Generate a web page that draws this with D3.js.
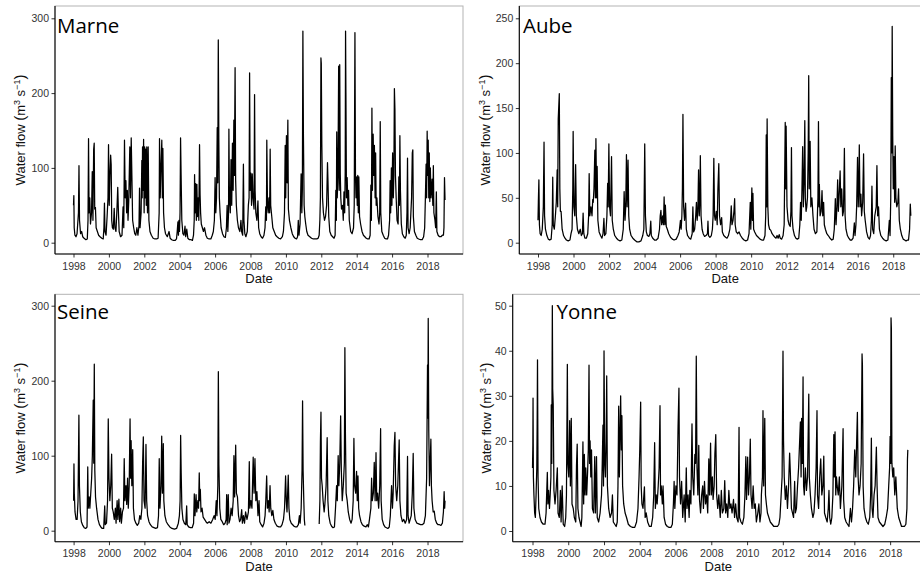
<!DOCTYPE html>
<html>
<head>
<meta charset="utf-8">
<script src="https://cdn.jsdelivr.net/npm/d3@7"></script>
<style>
  html, body { margin: 0; padding: 0; background: #fff; }
  svg { display: block; }
</style>
</head>
<body>
<svg id="chart" width="920" height="573"></svg>
<script>
// ---------------- DATA (decimal year, water flow m3/s) ----------------
const stationNames = ["Marne", "Aube", "Seine", "Yonne"];
const yearTicks = [1998, 2000, 2002, 2004, 2006, 2008, 2010, 2012, 2014, 2016, 2018];
const marneYTicks = [0, 100, 200, 300];
const aubeYTicks = [0, 50, 100, 150, 200, 250];
const seineYTicks = [0, 100, 200, 300];
const yonneYTicks = [0, 10, 20, 30, 40, 50];

const marneFlow = [
[1998.00,50],[1998.02,63],[1998.04,20],[1998.08,10],[1998.14,8],[1998.2,12],[1998.28,40],[1998.31,103],[1998.34,30],[1998.40,12],[1998.46,15],[1998.52,8],[1998.6,6],[1998.7,4],[1998.78,5],[1998.82,30],[1998.85,139],[1998.88,40],[1998.92,60],[1998.96,25],
[1999.02,40],[1999.06,95],[1999.1,30],[1999.14,125],[1999.17,133],[1999.2,45],[1999.24,47],[1999.28,20],[1999.35,15],[1999.42,10],[1999.5,8],[1999.6,6],[1999.68,5],[1999.72,20],[1999.75,53],[1999.78,15],[1999.84,10],[1999.9,35],[1999.95,60],[1999.98,131],
[2000.02,50],[2000.06,90],[2000.1,117],[2000.13,104],[2000.16,30],[2000.2,20],[2000.25,18],[2000.3,46],[2000.34,20],[2000.4,15],[2000.46,48],[2000.5,74],[2000.54,40],[2000.58,15],[2000.66,8],[2000.74,10],[2000.8,48],[2000.84,20],[2000.88,137],[2000.92,60],[2000.96,83],
[2001.0,40],[2001.04,70],[2001.08,30],[2001.12,55],[2001.18,128],[2001.22,60],[2001.26,140],[2001.3,87],[2001.34,30],[2001.4,20],[2001.46,12],[2001.52,10],[2001.58,20],[2001.64,10],[2001.7,23],[2001.73,73],[2001.76,20],[2001.82,40],[2001.86,110],[2001.88,60],[2001.9,128],[2001.93,70],[2001.96,138],[2001.99,40],
[2002.02,128],[2002.05,60],[2002.08,125],[2002.11,50],[2002.14,128],[2002.18,40],[2002.22,128],[2002.26,30],[2002.32,15],[2002.4,10],[2002.5,6],[2002.6,5],[2002.7,5],[2002.78,6],[2002.84,40],[2002.86,139],[2002.9,60],[2002.94,100],[2002.99,137],
[2003.02,60],[2003.05,126],[2003.09,40],[2003.14,20],[2003.2,12],[2003.3,8],[2003.4,15],[2003.46,6],[2003.55,4],[2003.65,3],[2003.75,3],[2003.82,5],[2003.86,15],[2003.9,28],[2003.93,10],[2003.96,30],[2003.99,15],
[2004.02,40],[2004.05,140],[2004.08,91],[2004.12,30],[2004.18,12],[2004.24,10],[2004.3,22],[2004.34,8],[2004.4,18],[2004.46,6],[2004.55,4],[2004.65,4],[2004.72,3],[2004.78,10],[2004.82,30],[2004.84,91],[2004.87,40],[2004.9,79],[2004.94,30],[2004.97,78],
[2005.0,35],[2005.04,60],[2005.08,30],[2005.12,131],[2005.15,65],[2005.18,40],[2005.22,25],[2005.28,20],[2005.34,15],[2005.4,20],[2005.48,10],[2005.56,6],[2005.66,5],[2005.76,5],[2005.84,10],[2005.9,15],[2005.96,30],
[2006.0,87],[2006.04,40],[2006.08,60],[2006.12,154],[2006.15,80],[2006.18,271],[2006.21,140],[2006.24,60],[2006.28,40],[2006.34,20],[2006.42,12],[2006.5,8],[2006.58,7],[2006.64,20],[2006.68,50],[2006.72,15],[2006.76,40],[2006.78,152],[2006.81,60],[2006.86,40],[2006.9,111],[2006.94,50],[2006.98,133],
[2007.02,70],[2007.06,164],[2007.09,90],[2007.13,234],[2007.16,85],[2007.2,50],[2007.26,30],[2007.32,20],[2007.4,15],[2007.46,30],[2007.5,15],[2007.56,10],[2007.6,105],[2007.63,30],[2007.68,12],[2007.74,8],[2007.82,15],[2007.88,50],[2007.92,60],[2007.95,227],[2007.98,70],
[2008.02,93],[2008.06,50],[2008.1,92],[2008.14,60],[2008.2,45],[2008.23,198],[2008.26,70],[2008.3,40],[2008.36,30],[2008.42,56],[2008.46,20],[2008.52,12],[2008.6,8],[2008.68,6],[2008.76,10],[2008.82,20],[2008.86,48],[2008.9,30],[2008.92,137],[2008.96,50],[2009.0,40],
[2009.04,60],[2009.08,40],[2009.11,125],[2009.14,50],[2009.2,35],[2009.26,20],[2009.34,15],[2009.42,10],[2009.5,8],[2009.6,6],[2009.7,5],[2009.8,8],[2009.86,15],[2009.92,40],[2009.96,130],[2009.99,60],
[2010.03,143],[2010.07,80],[2010.11,164],[2010.14,45],[2010.2,30],[2010.28,20],[2010.36,12],[2010.44,8],[2010.52,6],[2010.6,5],[2010.66,8],[2010.7,30],[2010.74,10],[2010.8,25],[2010.86,92],[2010.9,40],[2010.93,70],[2010.96,283],[2010.99,143],
[2011.03,50],[2011.07,35],[2011.12,25],[2011.18,15],[2011.25,10],[2011.35,8],[2011.45,6],[2011.55,5],[2011.65,5],[2011.75,5],[2011.82,6],[2011.88,10],[2011.92,30],[2011.95,60],[2011.98,247],
[2012.0,240],[2012.03,133],[2012.07,60],[2012.12,40],[2012.18,30],[2012.24,35],[2012.3,50],[2012.35,107],[2012.38,80],[2012.42,35],[2012.48,15],[2012.56,10],[2012.64,8],[2012.72,6],[2012.78,10],[2012.82,70],[2012.85,30],[2012.87,148],[2012.9,60],[2012.94,90],[2012.98,236],
[2013.01,70],[2013.04,238],[2013.07,93],[2013.1,60],[2013.14,45],[2013.2,50],[2013.24,30],[2013.28,68],[2013.32,40],[2013.35,95],[2013.37,283],[2013.39,200],[2013.42,60],[2013.46,87],[2013.5,50],[2013.54,70],[2013.58,30],[2013.66,15],[2013.74,12],[2013.82,20],[2013.86,50],[2013.9,281],[2013.93,90],[2013.96,60],
[2014.0,88],[2014.03,50],[2014.06,90],[2014.09,40],[2014.12,88],[2014.16,35],[2014.22,25],[2014.3,15],[2014.38,10],[2014.46,8],[2014.54,6],[2014.62,5],[2014.7,5],[2014.76,10],[2014.8,77],[2014.83,30],[2014.86,180],[2014.89,70],[2014.93,145],[2014.97,90],
[2015.0,130],[2015.04,60],[2015.07,120],[2015.1,50],[2015.14,60],[2015.2,35],[2015.26,25],[2015.3,40],[2015.33,162],[2015.36,40],[2015.42,15],[2015.5,10],[2015.58,6],[2015.66,5],[2015.74,5],[2015.8,10],[2015.86,30],[2015.89,83],[2015.92,40],[2015.96,100],[2015.99,50],
[2016.03,120],[2016.07,60],[2016.1,90],[2016.13,206],[2016.16,178],[2016.19,90],[2016.23,60],[2016.28,30],[2016.34,25],[2016.38,88],[2016.41,50],[2016.44,143],[2016.47,70],[2016.52,25],[2016.58,12],[2016.66,8],[2016.74,6],[2016.8,10],[2016.84,40],[2016.87,113],[2016.9,20],[2016.96,12],
[2017.02,20],[2017.06,40],[2017.1,60],[2017.14,120],[2017.17,124],[2017.2,35],[2017.26,15],[2017.34,10],[2017.42,6],[2017.5,5],[2017.6,4],[2017.7,4],[2017.78,8],[2017.84,20],[2017.88,60],[2017.92,105],[2017.95,60],[2017.98,149],
[2018.01,90],[2018.04,137],[2018.07,60],[2018.1,120],[2018.13,55],[2018.16,100],[2018.2,60],[2018.26,85],[2018.3,50],[2018.33,103],[2018.36,40],[2018.42,30],[2018.46,20],[2018.5,68],[2018.53,15],[2018.6,10],[2018.68,8],[2018.76,8],[2018.84,10],[2018.9,10],[2018.93,20],[2018.96,87],[2018.99,57]
];

const aubeFlow = [
[1998.0,25],[1998.02,45],[1998.05,70],[1998.08,20],[1998.12,10],[1998.18,8],[1998.24,15],[1998.3,40],[1998.34,112],[1998.37,30],[1998.42,15],[1998.5,8],[1998.58,4],[1998.66,3],[1998.74,4],[1998.8,20],[1998.83,73],[1998.86,20],[1998.92,15],[1998.98,30],
[1999.03,45],[1999.08,81],[1999.11,40],[1999.14,138],[1999.2,166],[1999.23,60],[1999.26,35],[1999.3,35],[1999.36,15],[1999.44,8],[1999.52,5],[1999.6,3],[1999.7,2],[1999.8,3],[1999.86,10],[1999.92,15],[1999.96,60],[1999.98,124],
[2000.02,40],[2000.07,30],[2000.12,87],[2000.16,30],[2000.22,15],[2000.3,10],[2000.38,15],[2000.44,8],[2000.5,10],[2000.54,33],[2000.58,10],[2000.64,5],[2000.72,5],[2000.8,10],[2000.85,30],[2000.88,77],[2000.92,30],[2000.98,40],
[2001.04,30],[2001.08,48],[2001.11,45],[2001.15,60],[2001.2,103],[2001.23,50],[2001.26,116],[2001.3,50],[2001.33,85],[2001.37,25],[2001.44,12],[2001.52,8],[2001.6,5],[2001.66,10],[2001.71,27],[2001.75,8],[2001.82,10],[2001.88,30],[2001.92,66],[2001.95,40],[2001.99,110],
[2002.03,40],[2002.08,30],[2002.14,96],[2002.18,25],[2002.24,15],[2002.32,8],[2002.42,5],[2002.52,3],[2002.62,2],[2002.72,3],[2002.8,15],[2002.85,57],[2002.9,25],[2002.94,40],[2002.98,98],
[2003.02,40],[2003.07,92],[2003.11,30],[2003.16,15],[2003.24,8],[2003.34,5],[2003.44,3],[2003.56,1],[2003.68,1],[2003.8,2],[2003.9,8],[2003.96,15],
[2004.01,110],[2004.05,30],[2004.1,12],[2004.16,8],[2004.24,7],[2004.3,10],[2004.35,24],[2004.38,8],[2004.46,5],[2004.56,3],[2004.66,3],[2004.76,5],[2004.84,15],[2004.88,30],[2004.92,36],[2004.96,20],
[2005.02,30],[2005.06,20],[2005.1,51],[2005.14,20],[2005.17,42],[2005.22,18],[2005.28,15],[2005.36,10],[2005.46,6],[2005.56,4],[2005.66,3],[2005.78,4],[2005.88,8],[2005.95,12],
[2006.02,25],[2006.06,15],[2006.1,30],[2006.13,60],[2006.16,143],[2006.2,40],[2006.25,25],[2006.31,44],[2006.35,15],[2006.42,8],[2006.52,5],[2006.6,4],[2006.68,10],[2006.72,40],[2006.76,12],[2006.82,15],[2006.88,30],[2006.92,45],[2006.96,25],
[2007.0,35],[2007.04,81],[2007.08,30],[2007.11,45],[2007.14,97],[2007.18,30],[2007.24,15],[2007.3,10],[2007.38,7],[2007.46,8],[2007.54,10],[2007.57,24],[2007.6,8],[2007.68,6],[2007.76,8],[2007.82,15],[2007.86,30],[2007.9,94],[2007.94,30],[2007.98,25],
[2008.04,35],[2008.09,20],[2008.13,60],[2008.18,88],[2008.22,30],[2008.28,20],[2008.34,28],[2008.38,12],[2008.46,8],[2008.56,6],[2008.64,5],[2008.72,8],[2008.8,15],[2008.84,25],[2008.88,41],[2008.92,20],[2008.98,25],
[2009.03,35],[2009.07,49],[2009.1,20],[2009.16,12],[2009.24,10],[2009.32,12],[2009.4,8],[2009.5,5],[2009.6,3],[2009.7,2],[2009.8,3],[2009.88,10],[2009.95,45],[2009.98,15],
[2010.04,61],[2010.07,25],[2010.1,55],[2010.14,15],[2010.2,12],[2010.3,8],[2010.4,6],[2010.5,4],[2010.6,3],[2010.7,3],[2010.78,8],[2010.82,30],[2010.85,120],[2010.88,40],[2010.9,138],[2010.94,40],[2010.98,20],
[2011.04,15],[2011.1,14],[2011.18,10],[2011.26,8],[2011.34,6],[2011.4,5],[2011.46,8],[2011.52,5],[2011.58,9],[2011.64,5],[2011.72,4],[2011.8,8],[2011.86,20],[2011.92,134],[2011.95,60],[2011.97,130],
[2012.02,40],[2012.08,25],[2012.14,20],[2012.2,18],[2012.24,35],[2012.27,106],[2012.3,30],[2012.36,15],[2012.44,8],[2012.52,5],[2012.6,4],[2012.68,5],[2012.74,20],[2012.78,45],[2012.82,25],[2012.86,60],[2012.9,107],[2012.94,40],[2012.98,70],
[2013.02,136],[2013.05,50],[2013.09,35],[2013.13,40],[2013.17,50],[2013.21,100],[2013.24,186],[2013.27,60],[2013.32,113],[2013.36,40],[2013.42,50],[2013.48,30],[2013.54,15],[2013.62,10],[2013.7,12],[2013.76,50],[2013.79,135],[2013.82,40],[2013.84,65],[2013.88,30],[2013.94,35],[2013.99,58],
[2014.03,30],[2014.08,45],[2014.12,20],[2014.18,15],[2014.26,10],[2014.34,8],[2014.44,5],[2014.54,3],[2014.62,4],[2014.68,15],[2014.74,49],[2014.78,20],[2014.83,40],[2014.87,70],[2014.91,35],[2014.95,50],
[2015.01,80],[2015.05,40],[2015.1,60],[2015.15,30],[2015.2,35],[2015.25,105],[2015.29,30],[2015.34,15],[2015.42,8],[2015.5,5],[2015.58,3],[2015.66,3],[2015.74,5],[2015.81,22],[2015.85,8],[2015.9,20],[2015.94,40],[2015.99,95],
[2016.03,40],[2016.06,60],[2016.09,109],[2016.13,40],[2016.18,54],[2016.22,30],[2016.28,45],[2016.33,99],[2016.37,35],[2016.42,25],[2016.5,12],[2016.58,6],[2016.66,4],[2016.72,8],[2016.77,25],[2016.8,63],[2016.84,15],[2016.9,10],[2016.96,30],
[2017.04,40],[2017.08,86],[2017.12,30],[2017.17,40],[2017.22,15],[2017.3,8],[2017.4,5],[2017.5,3],[2017.6,2],[2017.7,3],[2017.78,25],[2017.82,8],[2017.86,50],[2017.89,184],[2017.92,100],[2017.94,241],[2017.97,120],
[2018.0,60],[2018.04,96],[2018.08,45],[2018.11,108],[2018.15,50],[2018.2,40],[2018.26,45],[2018.3,60],[2018.34,25],[2018.4,15],[2018.48,8],[2018.56,4],[2018.64,3],[2018.72,2],[2018.8,3],[2018.86,3],[2018.92,15],[2018.96,43],[2018.99,30]
];

const seineFlow = [
[1998.0,40],[1998.02,89],[1998.04,50],[1998.08,25],[1998.14,15],[1998.2,15],[1998.25,40],[1998.3,154],[1998.33,60],[1998.38,25],[1998.44,12],[1998.52,7],[1998.6,4],[1998.68,3],[1998.76,5],[1998.8,85],[1998.83,30],[1998.88,45],[1998.92,30],[1998.97,50],
[1999.02,70],[1999.06,100],[1999.11,174],[1999.14,90],[1999.17,222],[1999.2,80],[1999.24,45],[1999.3,30],[1999.38,15],[1999.46,8],[1999.54,5],[1999.62,3],[1999.7,3],[1999.76,33],[1999.79,8],[1999.86,10],[1999.92,40],[1999.96,149],
[2000.0,70],[2000.05,40],[2000.1,60],[2000.15,102],[2000.19,30],[2000.24,25],[2000.3,15],[2000.36,30],[2000.4,10],[2000.46,40],[2000.5,15],[2000.56,42],[2000.6,12],[2000.66,30],[2000.7,10],[2000.76,25],[2000.82,30],[2000.86,96],[2000.9,40],[2000.96,60],
[2001.0,35],[2001.05,70],[2001.09,30],[2001.14,60],[2001.19,149],[2001.22,70],[2001.25,120],[2001.29,60],[2001.34,108],[2001.38,30],[2001.44,15],[2001.52,10],[2001.6,7],[2001.68,10],[2001.74,20],[2001.8,15],[2001.86,30],[2001.9,90],[2001.94,125],[2001.98,40],
[2002.04,30],[2002.09,115],[2002.13,40],[2002.18,20],[2002.26,12],[2002.34,8],[2002.44,5],[2002.54,4],[2002.64,3],[2002.74,4],[2002.8,20],[2002.84,96],[2002.88,30],[2002.94,60],[2002.98,126],
[2003.02,50],[2003.07,116],[2003.1,40],[2003.16,20],[2003.24,12],[2003.34,8],[2003.44,5],[2003.56,3],[2003.7,2],[2003.82,3],[2003.92,10],[2003.98,20],
[2004.02,40],[2004.05,127],[2004.08,78],[2004.12,30],[2004.18,15],[2004.26,10],[2004.34,8],[2004.39,33],[2004.42,8],[2004.5,5],[2004.6,4],[2004.7,4],[2004.78,10],[2004.82,49],[2004.86,20],[2004.92,48],[2004.96,25],
[2005.02,40],[2005.06,30],[2005.1,77],[2005.13,40],[2005.16,55],[2005.2,25],[2005.26,30],[2005.32,18],[2005.4,15],[2005.48,12],[2005.56,10],[2005.66,12],[2005.76,10],[2005.86,15],[2005.94,20],
[2006.0,15],[2006.06,40],[2006.1,20],[2006.15,60],[2006.18,212],[2006.21,88],[2006.26,30],[2006.32,15],[2006.4,12],[2006.48,8],[2006.56,10],[2006.62,15],[2006.65,48],[2006.68,8],[2006.74,48],[2006.78,10],[2006.84,15],[2006.9,30],[2006.96,20],
[2007.02,40],[2007.06,100],[2007.1,45],[2007.16,114],[2007.2,50],[2007.26,45],[2007.32,20],[2007.38,12],[2007.44,15],[2007.5,28],[2007.54,10],[2007.6,20],[2007.66,10],[2007.72,25],[2007.8,15],[2007.88,25],[2007.93,92],[2007.96,30],
[2008.02,40],[2008.08,30],[2008.15,98],[2008.2,50],[2008.25,96],[2008.3,40],[2008.36,52],[2008.42,20],[2008.48,40],[2008.52,12],[2008.6,8],[2008.68,5],[2008.76,10],[2008.82,20],[2008.86,40],[2008.91,73],[2008.95,30],
[2009.0,40],[2009.05,25],[2009.1,60],[2009.14,30],[2009.2,20],[2009.26,27],[2009.32,15],[2009.4,10],[2009.5,6],[2009.6,5],[2009.7,5],[2009.78,8],[2009.86,15],[2009.92,30],[2009.98,73],
[2010.02,40],[2010.06,25],[2010.13,74],[2010.17,30],[2010.22,15],[2010.3,10],[2010.38,8],[2010.46,6],[2010.54,5],[2010.62,5],[2010.7,8],[2010.76,20],[2010.8,10],[2010.86,30],[2010.91,80],[2010.94,173],[2010.97,80],
[2011.01,40],[2011.04,15],[2011.07,7],[2011.08,null],[2011.86,null],[2011.88,9],[2011.92,40],[2011.95,120],[2011.98,158],
[2012.01,70],[2012.05,60],[2012.1,40],[2012.16,25],[2012.2,35],[2012.27,60],[2012.33,124],[2012.37,40],[2012.42,20],[2012.5,10],[2012.58,6],[2012.66,4],[2012.74,5],[2012.8,30],[2012.86,60],[2012.9,40],[2012.95,100],[2012.99,60],
[2013.04,90],[2013.09,153],[2013.13,80],[2013.18,40],[2013.24,60],[2013.3,90],[2013.33,244],[2013.36,130],[2013.4,50],[2013.46,40],[2013.52,25],[2013.6,15],[2013.68,10],[2013.74,15],[2013.8,40],[2013.84,123],[2013.88,60],[2013.94,50],[2013.99,79],
[2014.03,40],[2014.07,73],[2014.11,30],[2014.16,20],[2014.24,12],[2014.32,8],[2014.42,6],[2014.52,5],[2014.6,8],[2014.66,5],[2014.72,15],[2014.8,30],[2014.84,70],[2014.88,40],[2014.94,50],[2014.99,91],
[2015.04,40],[2015.09,104],[2015.13,40],[2015.18,50],[2015.24,30],[2015.3,60],[2015.35,136],[2015.38,40],[2015.44,15],[2015.52,8],[2015.6,5],[2015.68,4],[2015.76,3],[2015.84,5],[2015.9,20],[2015.97,60],
[2016.02,30],[2016.06,50],[2016.12,113],[2016.16,131],[2016.2,60],[2016.26,40],[2016.32,60],[2016.4,121],[2016.44,40],[2016.5,20],[2016.58,12],[2016.66,15],[2016.74,10],[2016.82,15],[2016.87,99],[2016.9,20],[2016.96,10],
[2017.02,15],[2017.08,20],[2017.14,50],[2017.19,103],[2017.23,30],[2017.3,15],[2017.4,10],[2017.5,9],[2017.6,8],[2017.7,8],[2017.8,10],[2017.88,20],[2017.95,70],[2018.0,221],
[2018.02,150],[2018.04,283],[2018.07,135],[2018.11,60],[2018.15,90],[2018.19,122],[2018.22,60],[2018.26,40],[2018.32,25],[2018.38,26],[2018.44,15],[2018.52,10],[2018.6,8],[2018.68,8],[2018.76,7],[2018.84,10],[2018.9,25],[2018.94,52],[2018.97,30],[2018.99,40]
];

const yonneFlow = [
[1998.0,14],[1998.02,19],[1998.03,29.5],[1998.05,12],[1998.08,8],[1998.12,4],[1998.16,3],[1998.2,8],[1998.24,14],[1998.26,23.5],[1998.28,38],[1998.31,12],[1998.35,5],[1998.42,3],[1998.5,2],[1998.6,1.5],[1998.7,1.5],[1998.76,4],[1998.83,13],[1998.86,6],[1998.9,9],[1998.95,5],[1998.99,8],
[1999.03,12],[1999.05,28],[1999.08,15],[1999.11,50],[1999.13,31.5],[1999.16,28],[1999.2,9],[1999.26,6],[1999.32,9],[1999.39,14],[1999.43,4],[1999.5,3],[1999.56,9],[1999.6,2],[1999.66,10],[1999.72,1.5],[1999.8,1],[1999.86,3],[1999.9,8],[1999.95,37],[1999.98,15],
[2000.03,12],[2000.08,24.5],[2000.12,10],[2000.17,25],[2000.21,6],[2000.28,5],[2000.34,3],[2000.42,2],[2000.46,14.5],[2000.5,19.3],[2000.54,5],[2000.6,3],[2000.66,2],[2000.72,1],[2000.76,3],[2000.82,19.8],[2000.86,6],[2000.9,17],[2000.94,8],[2000.98,14],
[2001.03,8],[2001.08,13],[2001.12,18],[2001.16,36.8],[2001.19,15],[2001.22,20],[2001.26,12],[2001.3,18],[2001.35,5],[2001.42,4],[2001.48,16.5],[2001.52,4],[2001.58,16.5],[2001.62,3],[2001.7,2],[2001.78,4],[2001.86,8],[2001.9,15],[2001.94,23.5],[2001.97,10],
[2002.0,40],[2002.04,15],[2002.08,12],[2002.12,20],[2002.15,34.4],[2002.19,10],[2002.26,5],[2002.34,3],[2002.42,4],[2002.47,8],[2002.52,2],[2002.6,1.5],[2002.68,1],[2002.74,2],[2002.78,10],[2002.82,27.7],[2002.86,12],[2002.93,30],[2002.97,18],
[2003.0,25.6],[2003.04,10],[2003.1,6],[2003.18,4],[2003.26,3],[2003.36,1.5],[2003.48,1],[2003.6,0.8],[2003.72,0.8],[2003.82,2],[2003.9,5],[2003.96,12],
[2004.0,18],[2004.05,28.6],[2004.08,10],[2004.12,6],[2004.18,5],[2004.26,9.8],[2004.3,3],[2004.36,4],[2004.44,2],[2004.54,1],[2004.64,1],[2004.72,3],[2004.78,8],[2004.83,19.6],[2004.87,5],[2004.92,8],[2004.97,6],
[2005.03,10],[2005.08,14],[2005.13,27.8],[2005.16,8],[2005.2,10],[2005.26,6],[2005.3,10],[2005.36,3],[2005.44,1.5],[2005.54,1],[2005.64,0.8],[2005.74,0.8],[2005.82,1.5],[2005.88,6],[2005.92,11],[2005.96,5],
[2006.02,10],[2006.08,8],[2006.14,23],[2006.19,31.7],[2006.22,12],[2006.28,6],[2006.34,11],[2006.4,3],[2006.48,8],[2006.54,2],[2006.6,14],[2006.64,5],[2006.7,8],[2006.76,3],[2006.8,9],[2006.86,6],[2006.92,23.8],[2006.96,12],
[2007.02,8],[2007.08,17],[2007.12,15],[2007.16,38.8],[2007.2,14],[2007.25,8],[2007.3,19],[2007.34,7],[2007.4,4],[2007.46,8],[2007.52,10],[2007.56,5],[2007.62,11],[2007.68,6],[2007.74,8],[2007.8,4],[2007.86,16],[2007.9,8],[2007.96,19.5],
[2008.0,8],[2008.06,12],[2008.1,7],[2008.16,10],[2008.2,17],[2008.25,21.4],[2008.3,8],[2008.36,5],[2008.42,8],[2008.5,3],[2008.56,9],[2008.62,4],[2008.7,5],[2008.75,11.2],[2008.8,4],[2008.86,6],[2008.92,3],[2008.98,9],
[2009.04,5],[2009.1,6],[2009.16,4],[2009.24,7],[2009.3,3],[2009.36,6],[2009.42,3],[2009.5,2],[2009.55,23],[2009.58,3],[2009.66,2],[2009.74,1.5],[2009.82,3],[2009.88,8],[2009.93,16.5],[2009.97,7],
[2010.03,16.4],[2010.08,8],[2010.13,12],[2010.18,20.4],[2010.22,8],[2010.28,5],[2010.34,10],[2010.4,5],[2010.46,6],[2010.52,2],[2010.6,4],[2010.66,6],[2010.72,2],[2010.78,4],[2010.8,8],[2010.86,12],[2010.89,26.7],[2010.93,10],[2010.99,25],
[2011.03,8],[2011.08,6],[2011.14,4],[2011.22,3],[2011.3,2],[2011.4,1.5],[2011.5,1],[2011.6,1],[2011.7,1],[2011.78,1.5],[2011.84,3],[2011.92,9],[2011.96,12],
[2012.01,39.9],[2012.04,20],[2012.08,12],[2012.14,7],[2012.2,10],[2012.26,5],[2012.32,10],[2012.38,17.3],[2012.42,13],[2012.48,5],[2012.54,4],[2012.6,3],[2012.66,11],[2012.7,4],[2012.76,5],[2012.82,10],[2012.88,14],[2012.94,20],[2012.98,24.2],
[2013.02,12],[2013.05,25],[2013.09,15],[2013.13,34.2],[2013.16,10],[2013.2,8],[2013.26,14],[2013.32,9],[2013.38,12],[2013.45,30.4],[2013.48,12],[2013.54,8],[2013.6,5],[2013.68,3],[2013.74,4],[2013.8,8],[2013.86,14],[2013.91,26.7],[2013.94,8],
[2014.0,5],[2014.06,12],[2014.12,16],[2014.18,8],[2014.24,10],[2014.29,16.6],[2014.33,4],[2014.4,3],[2014.48,2],[2014.54,5],[2014.58,9],[2014.62,3],[2014.68,1.5],[2014.74,3],[2014.8,8],[2014.85,21.4],[2014.88,12],[2014.92,22],[2014.96,8],
[2015.0,12],[2015.04,10],[2015.1,8],[2015.16,12],[2015.22,5],[2015.3,10],[2015.37,22.7],[2015.4,7],[2015.46,3],[2015.54,2],[2015.62,1.5],[2015.7,1],[2015.78,5],[2015.84,2],[2015.9,5],[2015.96,10],
[2016.02,18],[2016.08,12],[2016.13,20],[2016.17,26.3],[2016.21,12],[2016.26,8],[2016.32,10],[2016.38,15],[2016.43,39.3],[2016.45,37],[2016.49,10],[2016.54,5],[2016.62,3],[2016.7,2],[2016.78,1.5],[2016.86,3],[2016.91,8],[2016.95,20.6],[2016.99,5],
[2017.04,3],[2017.1,8],[2017.16,10],[2017.23,18.6],[2017.27,10],[2017.32,3],[2017.4,2],[2017.5,1.5],[2017.6,1],[2017.7,1.5],[2017.78,3],[2017.86,5],[2017.92,10],[2017.97,14],
[2018.0,21],[2018.03,15],[2018.05,47.3],[2018.07,45],[2018.1,15],[2018.15,12],[2018.2,14],[2018.26,8],[2018.32,12],[2018.4,5],[2018.48,3],[2018.56,2],[2018.64,1],[2018.72,1],[2018.8,1],[2018.88,1.5],[2018.94,5],[2018.97,16],[2018.99,18]
];

// ---------------- LAYOUT ----------------
const panels = [
  { name: stationNames[0], data: marneFlow, yTicks: marneYTicks,
    frame: {l: 55, r: 463, t: 6, b: 254}, xr: [73.5, 445.2], yr: [242.7, 18.3],
    title: [57, 33], yTitleX: 25, xLabY: 269.5, xTitleY: 283 },
  { name: stationNames[1], data: aubeFlow, yTicks: aubeYTicks,
    frame: {l: 519.3, r: 931, t: 6, b: 254}, xr: [538, 911], yr: [242.7, 18.3],
    title: [523, 33], yTitleX: 490, xLabY: 269.5, xTitleY: 283 },
  { name: stationNames[2], data: seineFlow, yTicks: seineYTicks,
    frame: {l: 55, r: 463, t: 294.3, b: 541.7}, xr: [73.6, 445.2], yr: [530.7, 305.7],
    title: [57, 318.5], yTitleX: 25, xLabY: 557, xTitleY: 570.5 },
  { name: stationNames[3], data: yonneFlow, yTicks: yonneYTicks,
    frame: {l: 512.7, r: 924, t: 294.3, b: 541.7}, xr: [532.5, 908], yr: [531, 305.7],
    title: [556.5, 318.5], yTitleX: 491, xLabY: 557, xTitleY: 570.5 }
];

function decYear(t) {
  const y = Math.floor(t);
  const s = Date.UTC(y, 0, 1), e = Date.UTC(y + 1, 0, 1);
  return new Date(s + (t - y) * (e - s));
}

const svg = d3.select("#chart");
const FONT = "'Liberation Sans', Arial, sans-serif";

panels.forEach(p => {
  const g = svg.append("g");
  const x = d3.scaleUtc().domain([decYear(1998), decYear(2019)]).range(p.xr);
  const y = d3.scaleLinear().domain([0, p.yTicks[p.yTicks.length - 1]]).range(p.yr);
  const f = p.frame;

  // panel border (top/right light grey)
  g.append("rect").attr("x", f.l).attr("y", f.t)
    .attr("width", f.r - f.l).attr("height", f.b - f.t)
    .attr("fill", "none").attr("stroke", "#b3b3b3").attr("stroke-width", 1);

  // series line
  const line = d3.line()
    .defined(d => d[1] != null)
    .x(d => x(decYear(d[0])))
    .y(d => y(d[1]));
  g.append("path").datum(p.data).attr("d", line)
    .attr("fill", "none").attr("stroke", "#000").attr("stroke-width", 1.25)
    .attr("stroke-linejoin", "round");

  // y axis
  const yAxis = d3.axisLeft(y).tickValues(p.yTicks).tickSize(3.5).tickPadding(2.5).tickFormat(d3.format("d"));
  const ya = g.append("g").attr("transform", `translate(${f.l},0)`).call(yAxis);
  ya.select(".domain").remove();
  ya.selectAll(".tick line").attr("stroke", "#333").attr("stroke-width", 1);
  ya.selectAll(".tick text").attr("fill", "#333").style("font-family", FONT).style("font-size", "10.5px");

  // x axis
  const xAxis = d3.axisBottom(x).tickValues(yearTicks.map(decYear)).tickSize(3.5).tickPadding(2).tickFormat(d3.utcFormat("%Y"));
  const xa = g.append("g").attr("transform", `translate(0,${f.b})`).call(xAxis);
  xa.select(".domain").remove();
  xa.selectAll(".tick line").attr("stroke", "#333").attr("stroke-width", 1);
  xa.selectAll(".tick text").attr("fill", "#333").attr("dy", null).attr("y", p.xLabY - f.b)
    .style("font-family", FONT).style("font-size", "10.5px");

  // axis lines (left & bottom, black)
  g.append("line").attr("x1", f.l).attr("x2", f.l).attr("y1", f.t).attr("y2", f.b)
    .attr("stroke", "#000").attr("stroke-width", 1.1);
  g.append("line").attr("x1", f.l).attr("x2", f.r).attr("y1", f.b).attr("y2", f.b)
    .attr("stroke", "#000").attr("stroke-width", 1.1);

  // x title
  g.append("text").attr("x", (f.l + f.r) / 2).attr("y", p.xTitleY)
    .attr("text-anchor", "middle").style("font-family", FONT).style("font-size", "13px")
    .attr("fill", "#111").text("Date");

  // y title
  const cy = (f.t + f.b) / 2;
  const yt = g.append("text")
    .attr("transform", `translate(${p.yTitleX},${cy}) rotate(-90)`)
    .attr("text-anchor", "middle").style("font-family", FONT).style("font-size", "13px")
    .attr("fill", "#111");
  yt.append("tspan").text("Water flow ");
  yt.append("tspan").style("font-size", "15px").text("(");
  yt.append("tspan").text("m");
  yt.append("tspan").style("font-size", "9px").attr("dy", -5).text("3");
  yt.append("tspan").attr("dy", 5).text(" s");
  yt.append("tspan").style("font-size", "9px").attr("dy", -5).text("\u22121");
  yt.append("tspan").style("font-size", "15px").attr("dy", 5).text(")");

  // station title
  g.append("text").attr("x", p.title[0]).attr("y", p.title[1])
    .style("font-family", "'Open Sans', 'Noto Sans', sans-serif").style("font-size", "20.5px")
    .attr("fill", "#000").text(p.name);
});
</script>
</body>
</html>
